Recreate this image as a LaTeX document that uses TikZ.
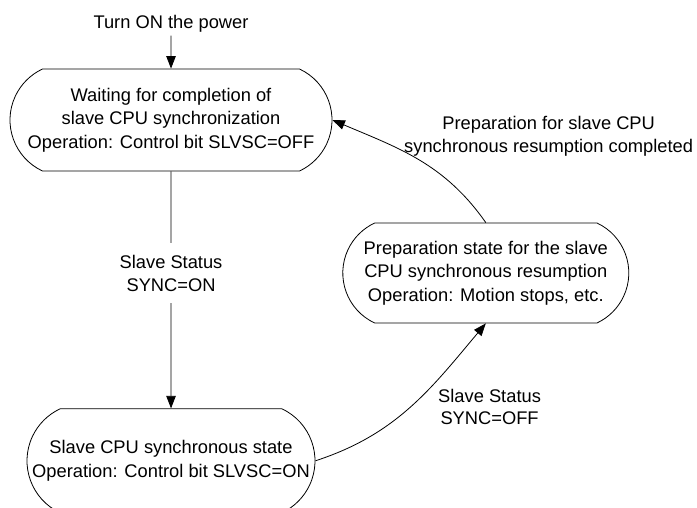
\documentclass[tikz,border=0pt]{standalone}
\usepackage{fontspec}
\setmainfont{Liberation Sans}
\usetikzlibrary{arrows.meta,positioning,shapes.misc}

\begin{document}
\begin{tikzpicture}[
  font=\fontsize{18.3}{23.5}\selectfont,
  node distance=10mm,
  state/.style={rounded rectangle,rounded rectangle arc length=130,draw,line width=0.8pt,align=center,inner sep=0pt,minimum height=102pt},
  lbl/.style={align=center,font=\fontsize{18.3}{22.5}\selectfont},
  arr/.style={-{Triangle[length=12.5pt,width=9.5pt]},line width=0.8pt}
]
\useasboundingbox (-171pt,-387pt) rectangle (526pt,120pt);
\node[state,minimum width=322pt] (wait) {Waiting for completion of\\slave CPU synchronization\\Operation: Control bit SLVSC=OFF};
\node[above=33pt of wait] (power) {Turn ON the power};
\node[state,minimum width=288pt,minimum height=104pt,below=237pt of wait] (sync) {Slave CPU synchronous state\\Operation: Control bit SLVSC=ON};
\node[state,minimum width=286pt,minimum height=100pt,right=10pt of wait.east,yshift=-153pt] (prep) {Preparation state for the slave\\CPU synchronous resumption\\Operation: Motion stops, etc.};

\draw[arr] (power) -- (wait);
\draw[arr] (wait) -- node[lbl,fill=white,inner ysep=12pt,pos=0.43] (on) {Slave Status\\SYNC=ON} (sync);
\draw[arr] (sync.east) to[out=18,in=230] node[lbl,pos=0.5,anchor=west,xshift=24pt] (off) {Slave Status\\SYNC=OFF} (prep.south);
\draw[arr] (prep.north) to[out=125,in=-23] node[lbl,pos=0.5,anchor=south west,xshift=-18pt] (done) {Preparation for slave CPU\\synchronous resumption completed} (wait.east);
\end{tikzpicture}
\end{document}
